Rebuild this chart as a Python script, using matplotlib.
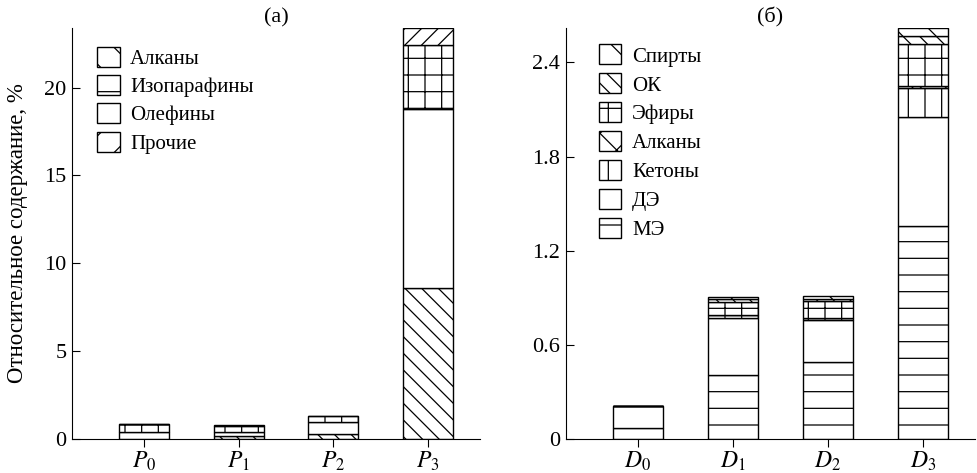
import numpy as np
import matplotlib.pyplot as plt
from matplotlib.patches import Patch

plt.rcParams['font.family'] = 'Liberation Serif'
plt.rcParams['mathtext.fontset'] = 'stix'
plt.rcParams['hatch.linewidth'] = 0.9

# (а) components, stacked bottom to top
p_labels = ['$P_0$', '$P_1$', '$P_2$', '$P_3$']
p_alkanes = [0.0, 0.17, 0.28, 8.6]
p_olefins = [0.40, 0.20, 0.68, 10.2]
p_isopar = [0.45, 0.35, 0.35, 3.6]
p_other = [0.0, 0.08, 0.0, 1.0]

# (б) components, stacked bottom to top
d_labels = ['$D_0$', '$D_1$', '$D_2$', '$D_3$']
d_me = [0.07, 0.41, 0.49, 1.36]
d_de = [0.14, 0.36, 0.27, 0.69]
d_ket = [0.0, 0.02, 0.01, 0.19]
d_alk = [0.0, 0.0, 0.0, 0.01]
d_eth = [0.0, 0.08, 0.11, 0.27]
d_ok = [0.0, 0.02, 0.015, 0.05]
d_alc = [0.0, 0.015, 0.015, 0.05]

fig = plt.figure(figsize=(9.77, 4.73), dpi=100)
ax1 = fig.add_axes([0.074, 0.072, 0.417, 0.869])
ax2 = fig.add_axes([0.579, 0.072, 0.419, 0.869])

width = 0.53


def stack(ax, series, hatches, n):
    x = np.arange(n)
    bottom = np.zeros(n)
    for vals, h in zip(series, hatches):
        ax.bar(x, vals, width, bottom=bottom, color='white', edgecolor='black',
               hatch=h, linewidth=1.0)
        bottom += np.array(vals)


stack(ax1, [p_alkanes, p_olefins, p_isopar, p_other], ['\\\\', '', '+', '//'], 4)
stack(ax2, [d_me, d_de, d_ket, d_alk, d_eth, d_ok, d_alc],
      ['-', '', '|', 'x', '+', '\\\\', '\\'], 4)

for ax, labels in [(ax1, p_labels), (ax2, d_labels)]:
    ax.spines['top'].set_visible(False)
    ax.spines['right'].set_visible(False)
    ax.set_xticks(range(4))
    ax.set_xticklabels(labels, fontsize=17)
    ax.set_xlim(-0.76, 3.55)
    ax.tick_params(axis='x', direction='out', length=6, pad=2)
    ax.tick_params(axis='y', direction='in', length=6, labelsize=16, pad=4)

ax1.set_ylim(0, 23.4)
ax1.set_yticks([0, 5, 10, 15, 20])
ax1.set_ylabel('Относительное содержание, %', fontsize=16.5, labelpad=12)
ax1.set_title('(а)', fontsize=16, pad=-3)

ax2.set_ylim(0, 2.62)
ax2.set_yticks([0, 0.6, 1.2, 1.8, 2.4])
ax2.set_yticklabels(['0', '0.6', '1.2', '1.8', '2.4'])
ax2.set_title('(б)', fontsize=16, pad=1)

h1 = [Patch(facecolor='white', edgecolor='black', hatch=h, label=l)
      for h, l in [('\\', 'Алканы'), ('-', 'Изопарафины'), ('', 'Олефины'), ('/', 'Прочие')]]
ax1.legend(handles=h1, loc='upper left', bbox_to_anchor=(0.04, 0.975), frameon=False,
           fontsize=15, handlelength=1.1, handleheight=1.1, labelspacing=0.3,
           handletextpad=0.5, borderaxespad=0)

h2 = [Patch(facecolor='white', edgecolor='black', hatch=h, label=l)
      for h, l in [('\\', 'Спирты'), ('\\\\', 'ОК'), ('+', 'Эфиры'), ('x', 'Алканы'),
                   ('|', 'Кетоны'), ('', 'ДЭ'), ('-', 'МЭ')]]
ax2.legend(handles=h2, loc='upper left', bbox_to_anchor=(0.06, 0.98), frameon=False,
           fontsize=15, handlelength=1.1, handleheight=1.1, labelspacing=0.33,
           handletextpad=0.5, borderaxespad=0)

fig.savefig('out.png', dpi=100)
